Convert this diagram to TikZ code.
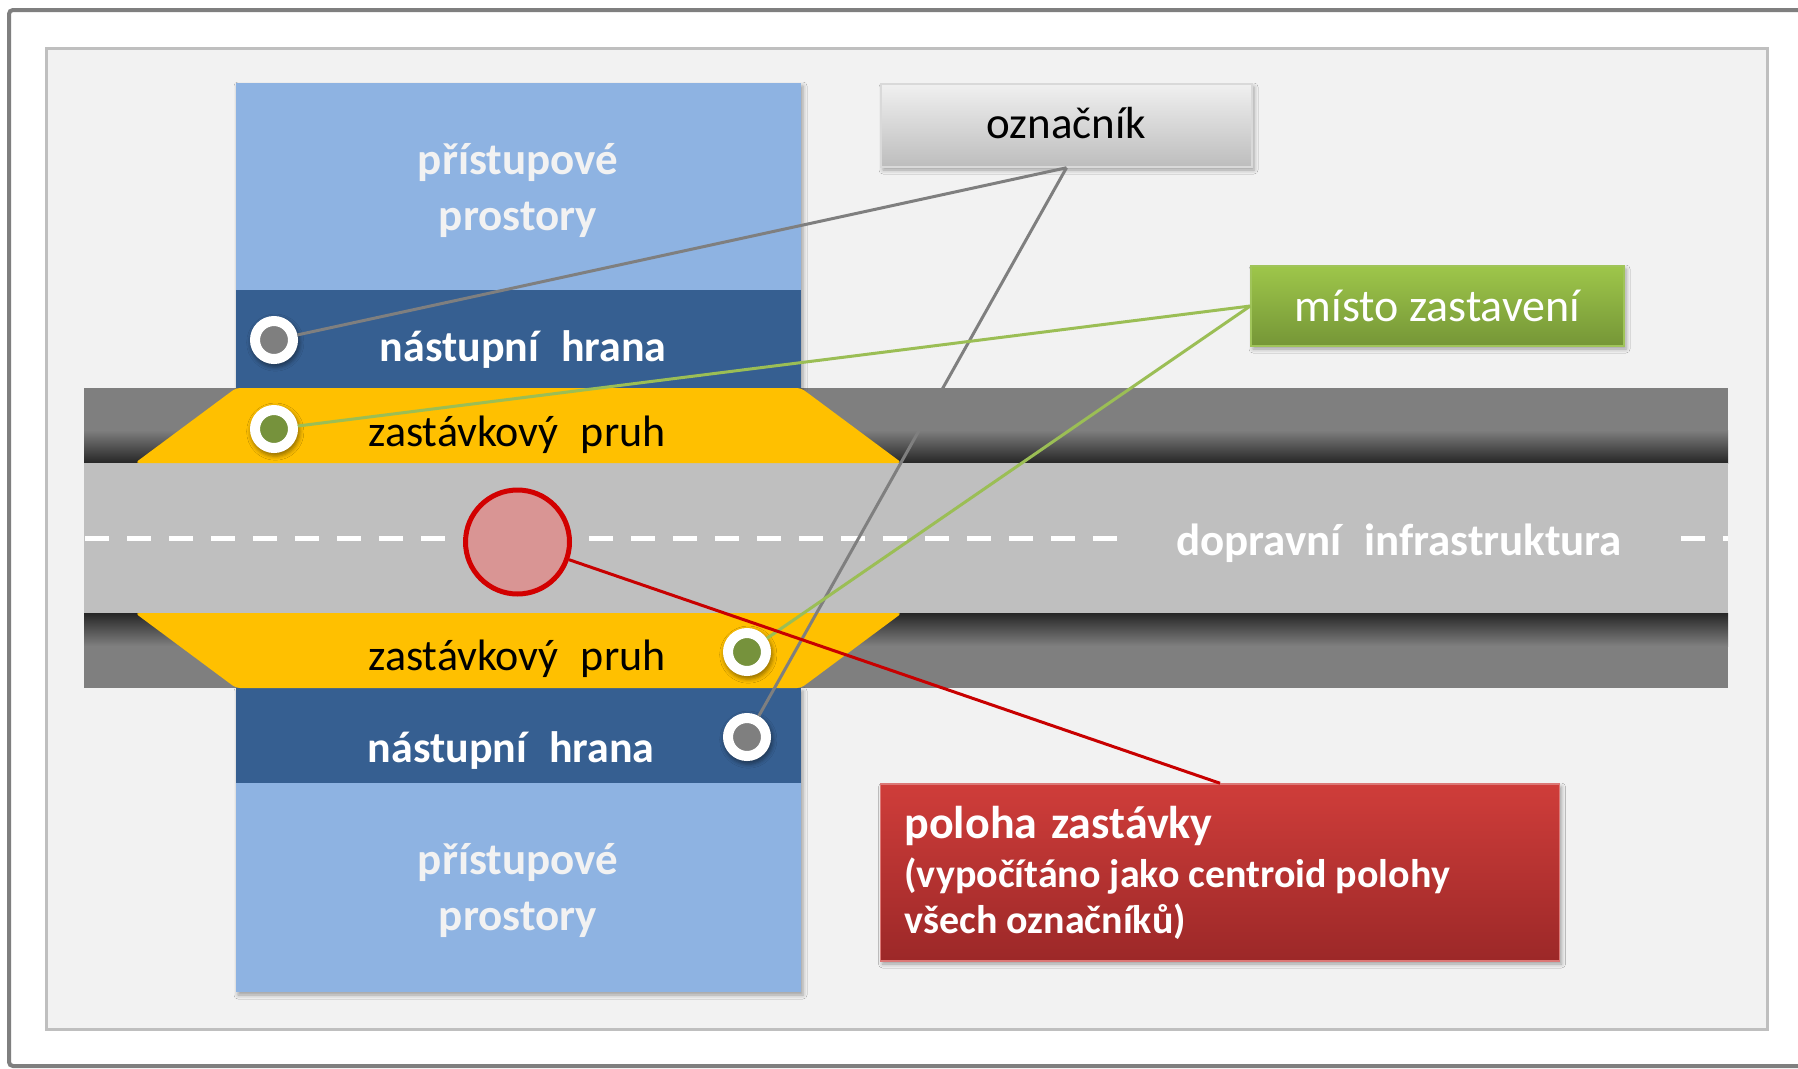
\documentclass[tikz,border=0pt]{standalone}
\usepackage{fontspec}
\setmainfont{Carlito}
\usetikzlibrary{shadows.blur}

\definecolor{frameGray}{HTML}{7F7F7F}
\definecolor{panelFill}{HTML}{F2F2F2}
\definecolor{panelLine}{HTML}{BFBFBF}
\definecolor{lightBlue}{RGB}{142,179,226}
\definecolor{darkBlue}{RGB}{54,95,145}
\definecolor{laneYellow}{HTML}{FFC000}
\definecolor{roadGray}{HTML}{BFBFBF}
\definecolor{kerbGray}{HTML}{7F7F7F}
\definecolor{kerbDark}{HTML}{262626}
\definecolor{markGray}{HTML}{7F7F7F}
\definecolor{markGreen}{RGB}{118,146,60}
\definecolor{stopRed}{RGB}{210,0,0}
\definecolor{stopPink}{RGB}{217,149,148}
\definecolor{lineGray}{HTML}{7F7F7F}
\definecolor{lineGreen}{RGB}{155,190,85}
\definecolor{lineRed}{RGB}{200,0,0}
\definecolor{tagTop}{HTML}{F0F0F0}
\definecolor{tagBottom}{HTML}{BDBDBD}
\definecolor{tagLine}{HTML}{D9D9D9}
\definecolor{greenTop}{RGB}{158,198,74}
\definecolor{greenBottom}{RGB}{117,150,55}
\definecolor{greenLine}{RGB}{160,196,90}
\definecolor{redTop}{RGB}{207,61,58}
\definecolor{redBottom}{RGB}{156,40,40}
\definecolor{redLine}{RGB}{220,120,118}

\newcommand{\wsp}{\hspace{0.5em}}

\tikzset{
  softshadow/.style={blur shadow={shadow xshift=2pt, shadow yshift=-3pt,
      shadow blur radius=4pt, shadow opacity=35}},
  marker/.style={circle, draw=white, line width=10pt, minimum size=38pt,
      inner sep=0pt, blur shadow={shadow xshift=1pt, shadow yshift=-2pt,
      shadow scale=1.3, shadow blur radius=3pt, shadow opacity=40}},
  stopmark/.style={circle, draw=stopRed, line width=5pt, fill=stopPink,
      minimum size=104pt, inner sep=0pt},
  lbl/.style={inner sep=0pt, align=center},
  tagbox/.style={rectangle, draw=tagLine, line width=1.5pt, top color=tagTop,
      bottom color=tagBottom, minimum width=371pt, minimum height=83pt,
      inner sep=0pt, softshadow, text height=26pt, text depth=0pt,
      font=\fontsize{45}{54}\selectfont},
  greenbox/.style={rectangle, draw=greenLine, line width=1.5pt,
      top color=greenTop, bottom color=greenBottom, minimum width=373pt,
      minimum height=80pt, inner sep=0pt, softshadow, text=white,
      font=\fontsize{46}{55}\selectfont},
  redbox/.style={rectangle, draw=redLine, line width=1.5pt, top color=redTop,
      bottom color=redBottom, minimum width=679pt, minimum height=177pt,
      inner xsep=24pt, inner ysep=0pt, text width=631pt, align=flush left,
      softshadow, text=white},
  connector/.style={line width=3pt},
}

\begin{document}
\begin{tikzpicture}[x=1pt, y=-1pt]
\useasboundingbox (0,0) rectangle (1798,1068);
\clip (0,0) rectangle (1798,1068);
\fill[white] (0,0) rectangle (1798,1068);

% outer frame and panel
\draw[frameGray, line width=4pt, rounded corners=4pt] (9,10) rectangle (1830,1066);
\draw[panelLine, fill=panelFill, line width=3pt] (46,48) rectangle (1767,1029);

% kerb strips either side of the carriageway
\fill[kerbGray] (84,388) rectangle (1728,463);
\shade[top color=kerbGray, bottom color=kerbDark] (84,430) rectangle (1728,463);
\fill[kerbGray] (84,613) rectangle (1728,688);
\shade[top color=kerbDark, bottom color=kerbGray] (84,613) rectangle (1728,646);

% carriageway
\fill[roadGray] (84,463) rectangle (1728,613);

% platform column: access areas and platform edges
\fill[lightBlue, softshadow] (236,83) rectangle (801,388);
\fill[darkBlue] (236,290) rectangle (801,388);
\fill[lightBlue, softshadow] (236,688) rectangle (801,992);
\fill[darkBlue] (236,688) rectangle (801,783);

% stop lanes
\fill[laneYellow, rounded corners=4pt] (236,388) -- (801,388) -- (902,463) -- (135,463) -- cycle;
\fill[laneYellow, rounded corners=4pt] (135,613) -- (902,613) -- (801,688) -- (236,688) -- cycle;

% centre line
\draw[white, line width=5pt, dash pattern=on 24pt off 18pt] (85,538) -- (1117,538);
\draw[white, line width=5pt, dash pattern=on 24pt off 18pt] (1681,538) -- (1728,538);

% area labels
\node[lbl, text=panelFill, font=\bfseries\fontsize{45}{56}\selectfont] (acc1) at (518,190) {přístupové\\prostory};
\node[lbl, text=panelFill, font=\bfseries\fontsize{45}{56}\selectfont] (acc2) at (518,890) {přístupové\\prostory};
\node[lbl, text=white, font=\bfseries\fontsize{44}{53}\selectfont] (edge1) at (523,350) {nástupní\wsp hrana};
\node[lbl, text=white, font=\bfseries\fontsize{44}{53}\selectfont] (edge2) at (511,751) {nástupní\wsp hrana};
\node[lbl, text=black, font=\fontsize{44}{53}\selectfont] (lane1) at (517,435) {zastávkový\wsp pruh};
\node[lbl, text=black, font=\fontsize{44}{53}\selectfont] (lane2) at (517,659) {zastávkový\wsp pruh};
\node[lbl, text=white, font=\bfseries\fontsize{45}{54}\selectfont] (road) at (1399,543) {dopravní\wsp infrastruktura};

% markers
\node[marker, fill=markGray] (pole1) at (274,340) {};
\node[marker, fill=markGreen] (halt1) at (274,429) {};
\node[marker, fill=markGreen] (halt2) at (747,652) {};
\node[marker, fill=markGray] (pole2) at (747,737) {};
\node[stopmark] (stop) at (517.5,542) {};

% callouts
\node[tagbox] (pole) at (1066.5,125.5) {označník};
\node[greenbox] (halt) at (1437.5,306) {místo zastavení};
\node[redbox] (pos) at (1220,872.5) {{\bfseries\fontsize{46}{51}\selectfont poloha\hspace{0.3em}zastávky\par}\vskip3pt
  {\bfseries\fontsize{40}{46}\selectfont (vypočítáno jako centroid polohy\\ všech označníků)\par}\vskip-5pt};

% connectors
\draw[connector, lineGray] (pole.south) -- (pole1);
\draw[connector, lineGray] (pole.south) -- (pole2);
\draw[connector, lineGreen] (halt.west) -- (halt1);
\draw[connector, lineGreen] (halt.west) -- (halt2);
\draw[connector, lineRed] (stop) -- (pos.north);
\end{tikzpicture}
\end{document}
